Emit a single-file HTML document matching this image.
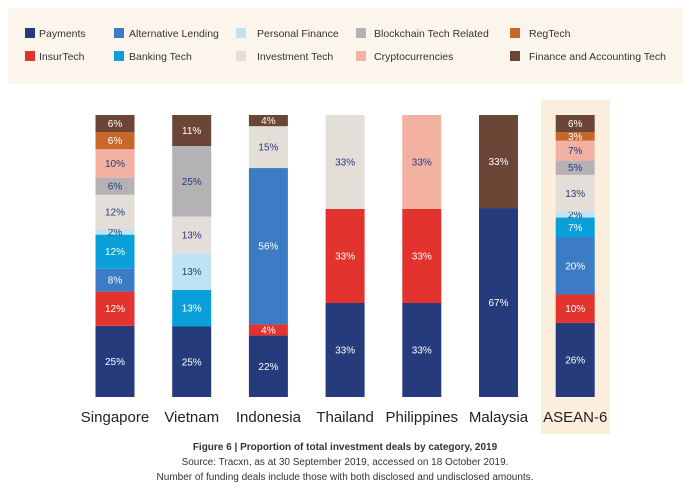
<!DOCTYPE html>
<html><head><meta charset="utf-8"><style>
body{margin:0;background:#fff;font-family:"Liberation Sans",sans-serif;}
svg{display:block}
</style></head><body>
<svg id="chart" width="691" height="489" xmlns="http://www.w3.org/2000/svg">
<rect x="8" y="8" width="675" height="76" fill="#fcf5ec"/>
<rect x="541" y="100" width="69" height="334" fill="#fbeedd"/>
<g id="legend"></g>
<g id="bars"></g>
<g id="xlabels"></g>
<g font-size="10" fill="#333" text-anchor="middle">
<text x="345" y="450" font-weight="bold">Figure 6 | Proportion of total investment deals by category, 2019</text>
<text x="345" y="465">Source: Tracxn, as at 30 September 2019, accessed on 18 October 2019.</text>
<text x="345" y="480">Number of funding deals include those with both disclosed and undisclosed amounts.</text>
</g>
</svg>
<script>
const categories = ["Singapore","Vietnam","Indonesia","Thailand","Philippines","Malaysia","ASEAN-6"];
const seriesNames = ["Payments","InsurTech","Alternative Lending","Banking Tech","Personal Finance","Investment Tech","Blockchain Tech Related","Cryptocurrencies","RegTech","Finance and Accounting Tech"];
const payments    = [25,25,22,33,33,67,26];
const insurtech   = [12,0,4,33,33,0,10];
const altLending  = [8,0,56,0,0,0,20];
const bankingTech = [12,13,0,0,0,0,7];
const personalFin = [2,13,0,0,0,0,2];
const investTech  = [12,13,15,33,0,0,13];
const blockchain  = [6,25,0,0,0,0,5];
const crypto      = [10,0,0,0,33,0,7];
const regtech     = [6,0,0,0,0,0,3];
const finAcct     = [6,11,4,0,0,33,6];
const series = [payments,insurtech,altLending,bankingTech,personalFin,investTech,blockchain,crypto,regtech,finAcct];
const colors = ["#263b7b","#e2332f","#3b7cc4","#0a9fd8","#bfe4f1","#e4ded9","#b4b2b4","#f2b1a1","#c8672a","#6b4637"];
const light = [false,false,false,false,true,true,true,true,false,false];
const NS="http://www.w3.org/2000/svg";
function mk(t,a,p){const e=document.createElementNS(NS,t);for(const k in a)e.setAttribute(k,a[k]);p.appendChild(e);return e;}
const barTop=115, barBottom=397, barW=39;
function xCenter(i){return 115+i*76.7;}
function yScale(frac){return barBottom-frac*(barBottom-barTop);}
const bars=document.getElementById('bars');
categories.forEach((c,i)=>{
  let total=0; series.forEach(s=>total+=s[i]);
  let cum=0;
  series.forEach((s,j)=>{
    const v=s[i]; if(!v) return;
    const y1=yScale(cum/total), y0=yScale((cum+v)/total);
    const r=mk('rect',{x:xCenter(i)-barW/2,y:y0,width:barW,height:y1-y0,fill:colors[j]},bars);
    
    
    const t=mk('text',{x:xCenter(i),y:(y0+y1)/2+3.5,'text-anchor':'middle','font-size':'10',fill:light[j]?'#263b7b':'#fff'},bars);
    t.textContent=v+'%';
    
    
    cum+=v;
  });
  const l=mk('text',{x:xCenter(i),y:422,'text-anchor':'middle','font-size':'15',fill:'#222'},document.getElementById('xlabels'));
  l.textContent=c;
  
  
});
const legOrder=[0,2,4,6,8,1,3,5,7,9];
const colX=[25,114,236,356,510], textX=[39,129,257,374,529];
const lg=document.getElementById('legend');
legOrder.forEach((s,k)=>{
  const col=k%5,row=Math.floor(k/5);
  const y=row?57:34;
  const r=mk('rect',{x:colX[col],y:y-6,width:10,height:10,fill:colors[s]},lg);
  
  
  const t=mk('text',{x:textX[col],y:y+3,'font-size':'10.5',fill:'#333'},lg);
  t.textContent=seriesNames[s];
  
  
});
</script>
</body></html>
